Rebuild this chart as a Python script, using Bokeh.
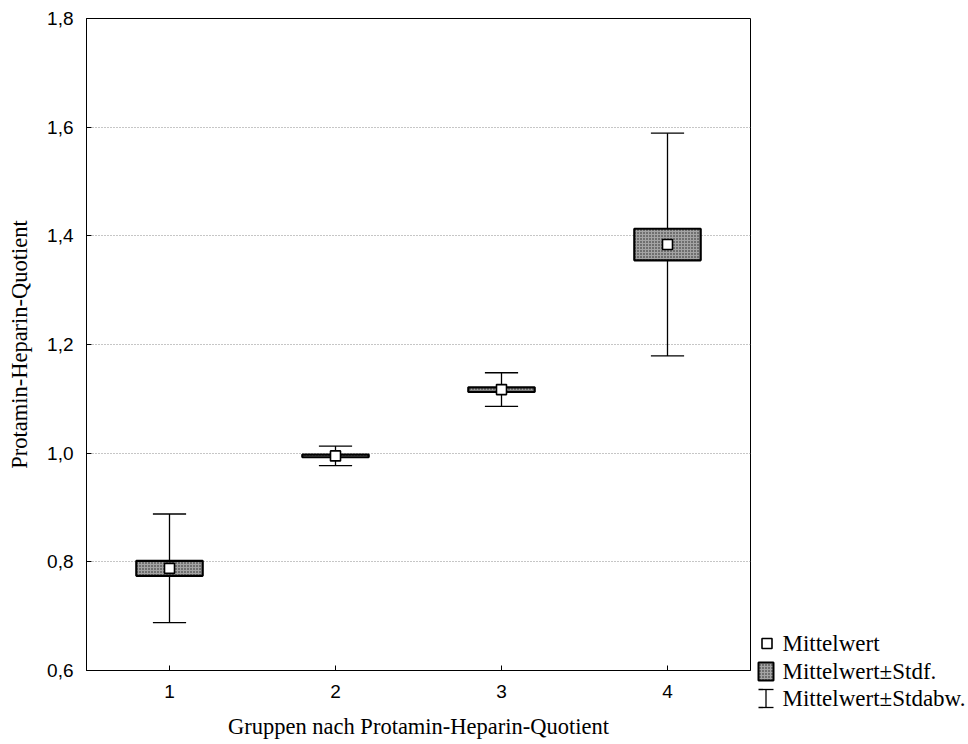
import numpy as np
from bokeh.plotting import figure
from bokeh.models import Range1d, FixedTicker, CustomJSTickFormatter, ColumnDataSource
from bokeh.layouts import row
from bokeh.embed import file_html
from bokeh.resources import INLINE
from bokeh.core.properties import value

# ---- data ----
groups = [1, 2, 3, 4]
group_labels = ["1", "2", "3", "4"]
means = [0.788, 0.995, 1.117, 1.384]
std_err = [0.0138, 0.0025, 0.0042, 0.0290]
std_dev = [0.100, 0.018, 0.031, 0.205]
y_ticks = [0.6, 0.8, 1.0, 1.2, 1.4, 1.6, 1.8]
y_tick_labels = ["0,6", "0,8", "1,0", "1,2", "1,4", "1,6", "1,8"]
legend_labels = ["Mittelwert", "Mittelwert±Stdf.", "Mittelwert±Stdabw."]
x_title = "Gruppen nach Protamin-Heparin-Quotient"
y_title = "Protamin-Heparin-Quotient"

SERIF = "Liberation Serif"
SANS = "Liberation Sans"
BOX_HALF = 0.2
CAP_HALF = 0.1
BOX_STYLE = dict(fill_color="#a4a4a4", hatch_pattern="dot", hatch_color="#202020",
                 hatch_scale=3, hatch_weight=1.5, line_color="black")

g = np.array(groups, dtype=float)
m = np.array(means)
se = np.array(std_err)
sd = np.array(std_dev)

src = ColumnDataSource(dict(
    x=g, mean=m,
    box_l=g - BOX_HALF, box_r=g + BOX_HALF, box_b=m - se, box_t=m + se,
    cap_l=g - CAP_HALF, cap_r=g + CAP_HALF, lo=m - sd, hi=m + sd,
))

p = figure(width=752, height=744,
           x_range=Range1d(0.5, 4.5), y_range=Range1d(0.6, 1.8),
           output_backend="svg", toolbar_location=None,
           min_border_left=86, min_border_top=18, min_border_right=2,
           min_border_bottom=74)
p.frame_align = False
p.background_fill_color = "white"
p.border_fill_color = "white"
p.outline_line_color = "black"
p.outline_line_width = 1

# whiskers
p.segment(x0="x", y0="lo", x1="x", y1="hi", source=src, line_color="black", line_width=1.3)
p.segment(x0="cap_l", y0="hi", x1="cap_r", y1="hi", source=src, line_color="black", line_width=1.3)
p.segment(x0="cap_l", y0="lo", x1="cap_r", y1="lo", source=src, line_color="black", line_width=1.3)
# boxes
p.quad(left="box_l", right="box_r", bottom="box_b", top="box_t", source=src,
       line_width=2.2, **BOX_STYLE)
# means
p.scatter(x="x", y="mean", source=src, marker="square", size=10,
          fill_color="white", line_color="black", line_width=1.6)

# axes
p.xaxis.ticker = FixedTicker(ticks=groups)
p.xaxis.major_label_overrides = {gg: lbl for gg, lbl in zip(groups, group_labels)}
p.yaxis.ticker = FixedTicker(ticks=y_ticks)
p.yaxis.formatter = CustomJSTickFormatter(args=dict(tvals=y_ticks, tlabels=y_tick_labels), code="""
const i = tvals.findIndex(t => Math.abs(t - tick) < 1e-9);
return i >= 0 ? tlabels[i] : '';
""")
p.xaxis.axis_label = x_title
p.yaxis.axis_label = y_title
for ax in (p.xaxis, p.yaxis):
    ax.axis_line_color = "black"
    ax.axis_line_width = 1
    ax.major_tick_in = 5
    ax.major_tick_out = 0
    ax.major_tick_line_color = "black"
    ax.minor_tick_line_color = None
    ax.major_label_text_font = SANS
    ax.major_label_text_font_size = "19px"
    ax.major_label_text_color = "black"
    ax.axis_label_text_font = SERIF
    ax.axis_label_text_font_style = "normal"
    ax.axis_label_text_font_size = "22.5px"
    ax.axis_label_text_color = "black"
p.xaxis.major_label_standoff = 14
p.xaxis.axis_label_standoff = 13
p.yaxis.major_label_standoff = 13
p.yaxis.axis_label_standoff = 12

p.xgrid.visible = False
p.ygrid.ticker = FixedTicker(ticks=y_ticks)
p.ygrid.grid_line_color = "#8c8c8c"
p.ygrid.grid_line_dash = "1 2"
p.ygrid.grid_line_width = 1

# ---- legend panel (pixel coordinates) ----
lf = figure(width=216, height=744, x_range=Range1d(752, 968), y_range=Range1d(744, 0),
            output_backend="svg", toolbar_location=None,
            x_axis_type=None, y_axis_type=None,
            min_border_left=0, min_border_right=0, min_border_top=0, min_border_bottom=0)
lf.frame_align = False
lf.outline_line_color = None
lf.grid.visible = False
lf.background_fill_color = "white"
lf.border_fill_color = "white"

row_y = [643, 671, 698]
lf.scatter(x=[766.5], y=[row_y[0]], marker="square", size=10,
           fill_color="white", line_color="black", line_width=1.6)
lf.quad(left=[758], right=[773], top=[row_y[1] - 9], bottom=[row_y[1] + 9],
        line_width=2, **BOX_STYLE)
lf.segment(x0=[765.5, 758, 758], y0=[row_y[2] - 9, row_y[2] - 9, row_y[2] + 9],
           x1=[765.5, 773, 773], y1=[row_y[2] + 9, row_y[2] - 9, row_y[2] + 9],
           line_color="black", line_width=1.3)
lf.text(x=[782] * 3, y=row_y, text=legend_labels,
        text_font=value(SERIF), text_font_size="23px", text_color="black",
        text_baseline="middle", text_align="left")

layout = row(p, lf, spacing=0)
open("out.html", "w").write(file_html(layout, INLINE))
